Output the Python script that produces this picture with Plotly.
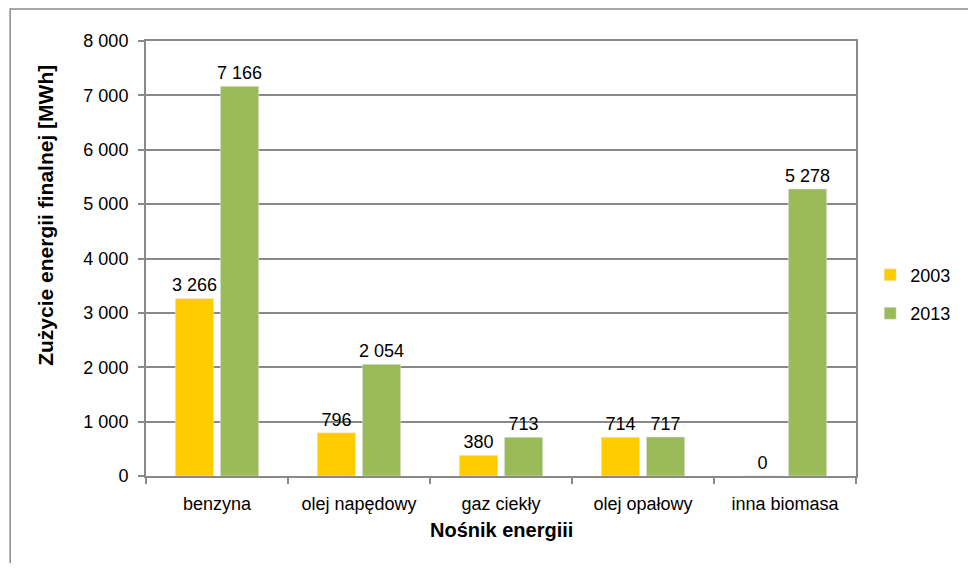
import plotly.graph_objects as go

nosniki = ["benzyna", "olej napędowy", "gaz ciekły", "olej opałowy", "inna biomasa"]
zuzycie_2003 = [3266, 796, 380, 714, 0]
zuzycie_2013 = [7166, 2054, 713, 717, 5278]

FONT = "Liberation Sans, Arial, sans-serif"
SZARY = "#898989"

fig = go.Figure()

fig.add_trace(go.Bar(
    name="2003",
    x=nosniki,
    y=zuzycie_2003,
    marker_color="#FFCC00",
    texttemplate="%{y:,d}",
    textposition="outside",
    constraintext="none",
    textfont=dict(size=18, color="#000000"),
    cliponaxis=False,
    legendgroup="a",
))

fig.add_trace(go.Bar(
    name="2013",
    x=nosniki,
    y=zuzycie_2013,
    marker_color="#9BBB59",
    texttemplate="%{y:,d}",
    textposition="outside",
    constraintext="none",
    textfont=dict(size=18, color="#000000"),
    cliponaxis=False,
    legendgroup="b",
))

# strona html ma 8 px marginesu body, stad mniejsza figura
fig.update_layout(
    width=960,
    height=555,
    margin=dict(l=138, r=106, t=33, b=87),
    paper_bgcolor="white",
    plot_bgcolor="white",
    separators=", ",
    font=dict(family=FONT, size=18, color="#000000"),
    barmode="group",
    bargap=0.365,
    bargroupgap=0.15,
    showlegend=True,
    legend=dict(
        x=1.02, y=0.418, xanchor="left", yanchor="middle",
        font=dict(size=18),
        tracegroupgap=12,
        bgcolor="rgba(0,0,0,0)",
    ),
    xaxis=dict(
        showline=True, linecolor=SZARY, linewidth=2, mirror=True,
        ticks="outside", ticklen=6, tickcolor=SZARY, tickwidth=2,
        tickson="boundaries", showgrid=False,
        ticklabelstandoff=10,
        tickfont=dict(size=18),
    ),
    yaxis=dict(
        range=[0, 8000], dtick=1000, tickformat=",d",
        showline=True, linecolor=SZARY, linewidth=2, mirror=True,
        ticks="outside", ticklen=6, tickcolor=SZARY, tickwidth=2,
        showgrid=True, gridcolor=SZARY, gridwidth=1.5,
        zeroline=False,
        ticklabelstandoff=6,
        tickfont=dict(size=18),
    ),
    annotations=[
        dict(text="<b>Zużycie energii finalnej [MWh]</b>", textangle=-90,
             x=-0.1425, y=0.6, xref="paper", yref="paper",
             xanchor="center", yanchor="middle", showarrow=False,
             font=dict(size=21)),
        dict(text="<b>Nośnik energiii</b>",
             x=0.5, y=-0.124, xref="paper", yref="paper",
             xanchor="center", yanchor="middle", showarrow=False,
             font=dict(size=20)),
    ],
    shapes=[
        dict(type="rect", xref="paper", yref="paper",
             x0=-0.1913, y0=-0.4, x1=1.3, y1=1.0736,
             line=dict(color=SZARY, width=1.5), fillcolor="rgba(0,0,0,0)",
             layer="below"),
    ],
)

fig.write_html("out.html")
